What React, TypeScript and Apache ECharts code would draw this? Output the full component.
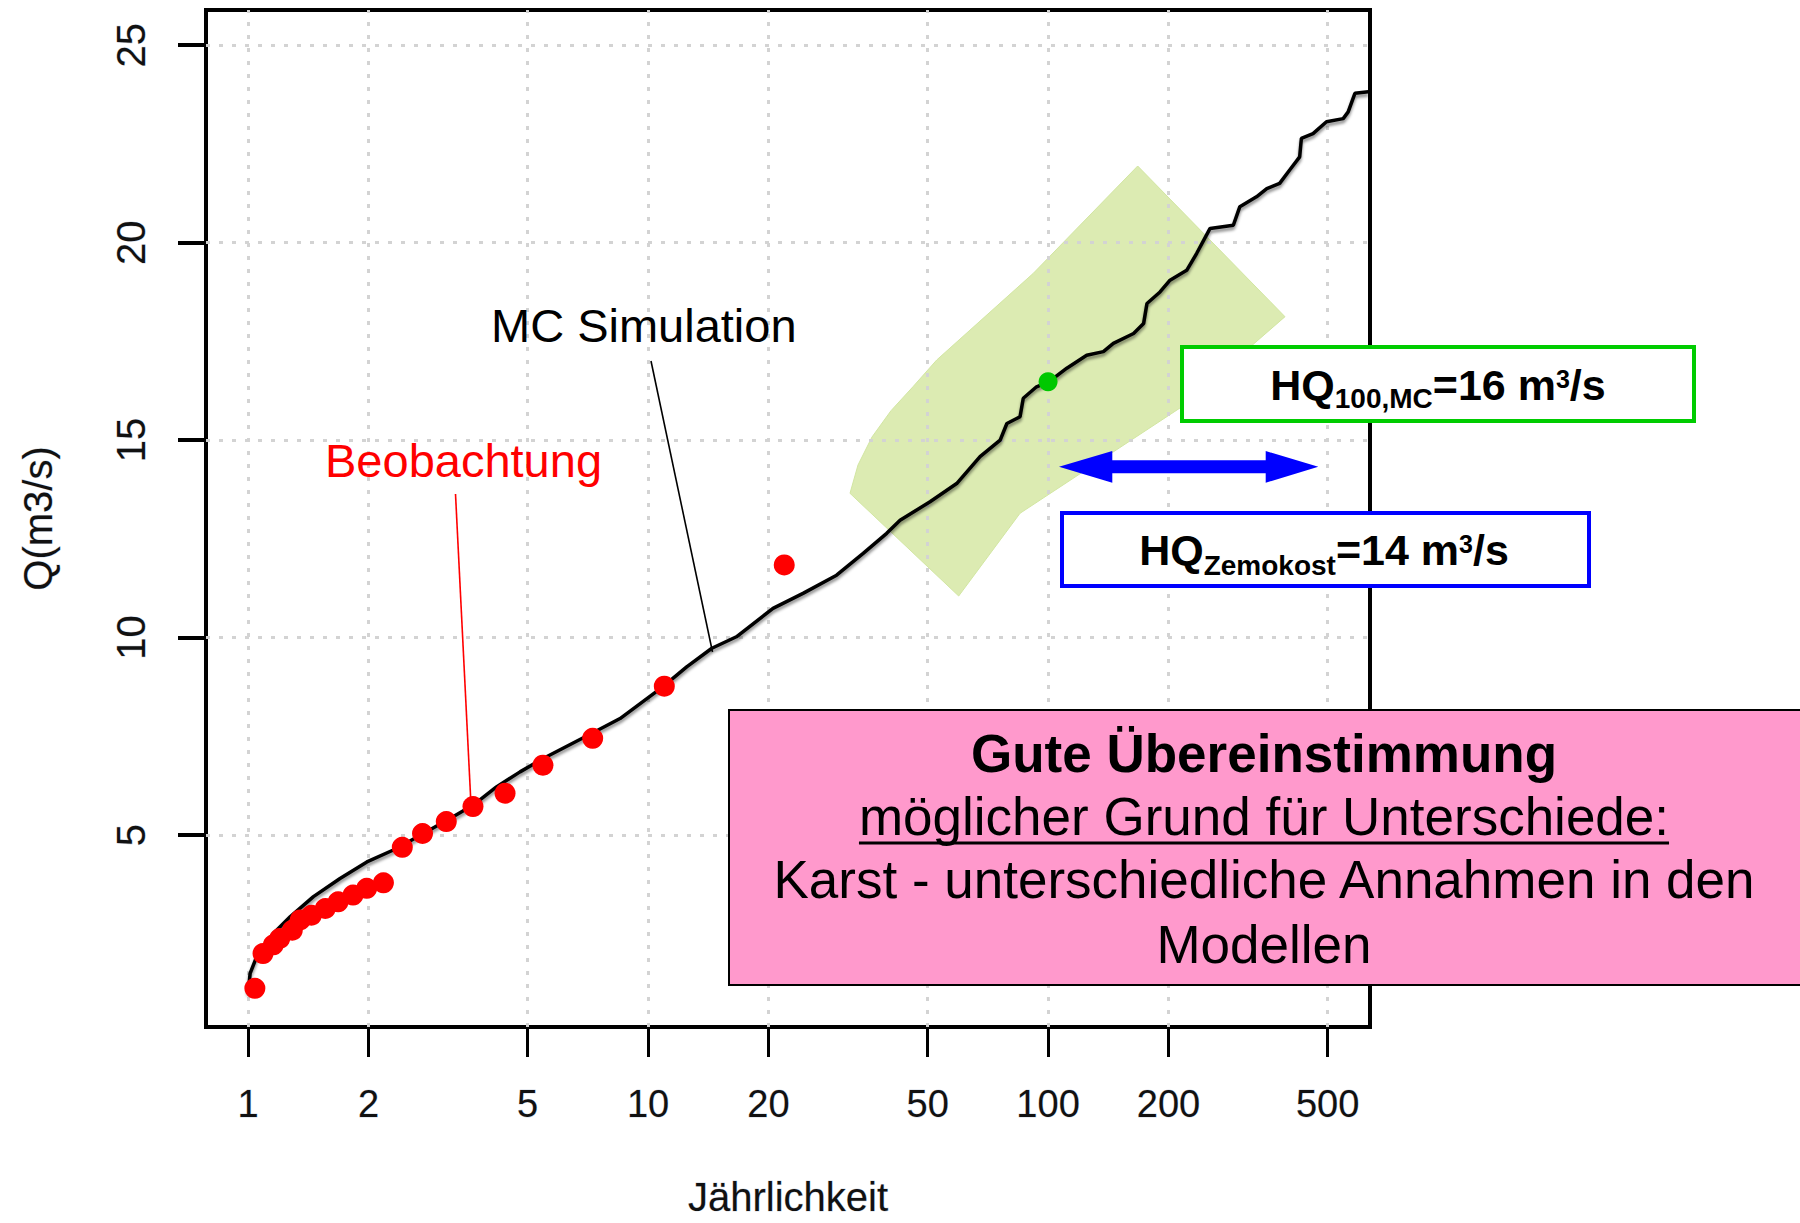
import React, { useEffect, useRef } from "react";
import * as echarts from "echarts";

// Axis ticks (return period on a log axis, discharge on a linear axis)
const periodTicks = [1, 2, 5, 10, 20, 50, 100, 200, 500];
const dischargeTicks = [5, 10, 15, 20, 25];

// Monte-Carlo simulated frequency curve: return period [a] and discharge [m³/s]
const mcPeriod = [
  1.001, 1.012, 1.051, 1.157, 1.274, 1.457, 1.698, 1.982, 2.353, 2.742,
  3.199, 3.656, 4.178, 4.786, 5.468, 7.222, 8.511, 10.88, 12.49, 14.44,
  16.63, 20.53, 24.4, 29.6, 34.5, 39.5, 42.66, 50.7, 59.1, 67.6,
  75.9, 78.9, 85.1, 86.7, 93.6, 100.6, 111.4, 124.9, 137.5, 145.6,
  163.6, 173.3, 176.7, 190.5, 201.8, 222.1, 235.3, 254.1, 290.5, 301.6,
  331.9, 352.2, 379.3, 401.8, 425.6, 429.8, 459.6, 496.6, 546.8, 562.7,
  584.9, 631.9,
];
const mcDischarge = [
  1.0, 1.5, 1.92, 2.51, 2.93, 3.44, 3.9, 4.32, 4.66, 5.04,
  5.42, 5.76, 6.22, 6.6, 6.94, 7.57, 7.95, 8.75, 9.26, 9.73,
  10.02, 10.74, 11.12, 11.58, 12.13, 12.64, 12.97, 13.44, 13.9, 14.58,
  15.0, 15.42, 15.59, 16.06, 16.35, 16.48, 16.82, 17.15, 17.24, 17.45,
  17.7, 17.95, 18.46, 18.75, 19.05, 19.3, 19.73, 20.36, 20.44, 20.91,
  21.16, 21.37, 21.5, 21.84, 22.17, 22.64, 22.76, 23.06, 23.14, 23.31,
  23.78, 23.82,
];

// Observed annual maxima (Beobachtung)
const obsPeriod = [
  1.04, 1.09, 1.157, 1.2, 1.29, 1.35, 1.44, 1.56, 1.68, 1.83, 1.98,
  2.18, 2.43, 2.73, 3.13, 3.65, 4.39, 5.46, 7.27, 10.98, 21.9,
];
const obsDischarge = [
  1.12, 2.0, 2.22, 2.38, 2.59, 2.85, 2.97, 3.14, 3.31, 3.48, 3.65,
  3.79, 4.69, 5.04, 5.34, 5.72, 6.06, 6.77, 7.45, 8.77, 11.84,
];

// Design values
const hq100Period = 100;
const hq100Discharge = 16.48;
const hqZemokost = 14;

const FONT = "'Liberation Sans', Arial, Helvetica, sans-serif";
const CENTRAL = 0.3465; // distance of the central baseline above the alphabetic one, in em

let measureCtx: CanvasRenderingContext2D | null = null;
function textWidth(text: string, size: number, weight: string) {
  if (!measureCtx) measureCtx = document.createElement("canvas").getContext("2d");
  measureCtx!.font = `${weight} ${size}px ${FONT}`;
  return measureCtx!.measureText(text).width;
}

function textEl(text: string, x: number, baseline: number, size: number, opts: any = {}) {
  const weight = opts.weight || "normal";
  const align = opts.align || "left";
  return {
    type: "text",
    x,
    y: baseline - CENTRAL * size,
    z: opts.z ?? 101,
    silent: true,
    style: {
      text,
      font: `${weight} ${size}px ${FONT}`,
      fill: opts.color || "#000",
      align,
      textAlign: align,
      verticalAlign: "middle",
      textVerticalAlign: "middle",
    },
  };
}

// A line of bold text with sub/superscripts, centred on cx
type Part = { text: string; size: number; shift: number };
function formulaRun(parts: Part[], cx: number, baseline: number) {
  const widths = parts.map((p) => textWidth(p.text, p.size, "bold"));
  const total = widths.reduce((a, b) => a + b, 0);
  let x = cx - total / 2;
  return parts.map((p, i) => {
    const el = textEl(p.text, x, baseline + p.shift, p.size, { weight: "bold" });
    x += widths[i];
    return el;
  });
}

function buildGraphics() {
  const els: any[] = [];

  // Uncertainty band around the 100-year estimate
  els.push({
    type: "polygon",
    z: 0,
    silent: true,
    shape: {
      points: [
        [1137.7, 166], [1285, 316.7], [1180, 408], [1020, 513.3], [958.7, 596],
        [850, 493.3], [858, 465], [872, 437], [891, 410.7], [913, 386.7],
        [936.7, 360], [1033.3, 273.3],
      ],
    },
    style: { fill: "#dcebb2", stroke: "#d2e6a2", lineWidth: 1 },
  });

  // Leader lines for the two series captions
  els.push({
    type: "line", z: 50, silent: true,
    shape: { x1: 651, y1: 361, x2: 712.5, y2: 652 },
    style: { stroke: "#000", lineWidth: 1.6 },
  });
  els.push({
    type: "line", z: 50, silent: true,
    shape: { x1: 455.5, y1: 494, x2: 471, y2: 805 },
    style: { stroke: "#ff0000", lineWidth: 1.6 },
  });
  els.push(textEl("MC Simulation", 491, 341.5, 47, { z: 51 }));
  els.push(textEl("Beobachtung", 325, 476.7, 47, { z: 51, color: "#ff0000" }));

  // Double-headed arrow between the two estimates
  els.push({
    type: "polygon",
    z: 100,
    silent: true,
    shape: {
      points: [
        [1059, 466.7], [1112.3, 451], [1112.3, 460.3], [1265.7, 460.3], [1265.7, 451],
        [1318.3, 466.7], [1265.7, 482.7], [1265.7, 473.3], [1112.3, 473.3], [1112.3, 482.7],
      ],
    },
    style: { fill: "#0000ff" },
  });

  // HQ100 (MC) box
  els.push({
    type: "rect", z: 100, silent: true,
    shape: { x: 1182, y: 347, width: 512, height: 74 },
    style: { fill: "#fff", stroke: "#00cc00", lineWidth: 4 },
  });
  els.push(
    ...formulaRun(
      [
        { text: "HQ", size: 43, shift: 0 },
        { text: "100,MC", size: 28, shift: 9 },
        { text: `=${Math.round(hq100Discharge)} m`, size: 43, shift: 0 },
        { text: "3", size: 25, shift: -12 },
        { text: "/s", size: 43, shift: 0 },
      ],
      1438,
      399.5
    )
  );

  // HQ Zemokost box
  els.push({
    type: "rect", z: 100, silent: true,
    shape: { x: 1062, y: 513, width: 527, height: 73 },
    style: { fill: "#fff", stroke: "#0000ff", lineWidth: 4 },
  });
  els.push(
    ...formulaRun(
      [
        { text: "HQ", size: 43, shift: 0 },
        { text: "Zemokost", size: 28, shift: 10 },
        { text: `=${hqZemokost} m`, size: 43, shift: 0 },
        { text: "3", size: 25, shift: -12 },
        { text: "/s", size: 43, shift: 0 },
      ],
      1324,
      565
    )
  );

  // Conclusion box
  els.push({
    type: "rect", z: 100, silent: true,
    shape: { x: 729, y: 710, width: 1100, height: 275 },
    style: { fill: "#ff99cc", stroke: "#000", lineWidth: 2 },
  });
  const cx = 1264;
  els.push(textEl("Gute Übereinstimmung", cx, 771.7, 53, { weight: "bold", align: "center" }));
  const reason = "möglicher Grund für Unterschiede:";
  els.push(textEl(reason, cx, 835, 53, { align: "center" }));
  const rw = textWidth(reason, 53, "normal");
  els.push({
    type: "line", z: 101, silent: true,
    shape: { x1: cx - rw / 2, y1: 843, x2: cx + rw / 2, y2: 843 },
    style: { stroke: "#000", lineWidth: 3 },
  });
  els.push(textEl("Karst - unterschiedliche Annahmen in den", cx, 898.3, 53, { align: "center" }));
  els.push(textEl("Modellen", cx, 963.3, 53, { align: "center" }));

  return els;
}

export default function App() {
  const ref = useRef<HTMLDivElement>(null);

  useEffect(() => {
    const chart = echarts.init(ref.current!, null, { renderer: "svg" });

    const gridLine = { color: "#d3d3d3", width: 3, type: [4, 9] as any };
    const tickText = { fontFamily: FONT, color: "#111", textBorderColor: "rgba(60,90,140,0.25)", textBorderWidth: 1 };

    const option: any = {
      animation: false,
      backgroundColor: "#fff",
      grid: {
        left: 206,
        right: 430,
        top: 10,
        bottom: 196,
        show: true,
        borderColor: "#000",
        borderWidth: 4,
        backgroundColor: "transparent",
      },
      xAxis: {
        type: "log",
        logBase: 10,
        min: 0.785,
        max: 638,
        axisLine: { show: false },
        splitLine: { show: false },
        minorTick: { show: false },
        axisTick: {
          show: true,
          customValues: periodTicks,
          length: 30,
          lineStyle: { color: "#000", width: 3 },
        },
        axisLabel: {
          ...tickText,
          customValues: periodTicks,
          formatter: (v: number) => String(v),
          fontSize: 38,
          margin: 58,
        },
        name: "Jährlichkeit",
        nameLocation: "middle",
        nameGap: 150,
        nameTextStyle: { ...tickText, fontSize: 40 },
      },
      yAxis: {
        type: "value",
        min: 0.14,
        max: 25.89,
        axisLine: { show: false },
        splitLine: { show: false },
        axisTick: {
          show: true,
          customValues: dischargeTicks,
          length: 28,
          lineStyle: { color: "#000", width: 4 },
        },
        axisLabel: {
          ...tickText,
          customValues: dischargeTicks,
          formatter: (v: number) => String(v),
          rotate: 90,
          fontSize: 40,
          margin: 55,
        },
        name: "Q(m3/s)",
        nameLocation: "middle",
        nameRotate: 90,
        nameGap: 148,
        nameTextStyle: { ...tickText, fontSize: 40 },
      },
      graphic: { elements: buildGraphics() },
      series: [
        {
          name: "MC Simulation",
          type: "line",
          z: 2,
          showSymbol: false,
          silent: true,
          data: mcPeriod.map((p, i) => [p, mcDischarge[i]]),
          lineStyle: {
            color: "#000",
            width: 3.5,
            shadowColor: "rgba(0,0,0,0.45)",
            shadowBlur: 3,
            shadowOffsetY: 3,
          },
          markLine: {
            silent: true,
            z: 1,
            symbol: ["none", "none"],
            label: { show: false },
            lineStyle: gridLine,
            emphasis: { disabled: true },
            data: [
              ...periodTicks.map((p) => ({ xAxis: p })),
              ...dischargeTicks.map((q) => ({ yAxis: q })),
            ],
          },
        },
        {
          name: "Beobachtung",
          type: "scatter",
          z: 3,
          silent: true,
          symbolSize: 21,
          itemStyle: { color: "#ff0000", opacity: 1 },
          data: obsPeriod.map((p, i) => [p, obsDischarge[i]]),
        },
        {
          name: "HQ100",
          type: "scatter",
          z: 4,
          silent: true,
          symbolSize: 19,
          itemStyle: { color: "#00c800", opacity: 1 },
          data: [[hq100Period, hq100Discharge]],
        },
      ],
    };

    chart.setOption(option);
    return () => chart.dispose();
  }, []);

  return (
    <div
      ref={ref}
      style={{ position: "fixed", left: 0, top: 0, width: 1800, height: 1223, background: "#fff" }}
    />
  );
}
